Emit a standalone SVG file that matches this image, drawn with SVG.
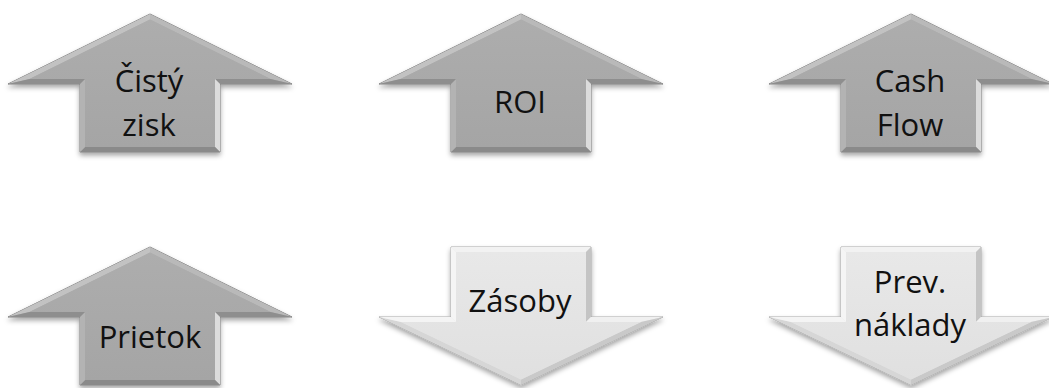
<svg xmlns="http://www.w3.org/2000/svg" xmlns:xlink="http://www.w3.org/1999/xlink" width="1049" height="388" viewBox="0 0 1049 388">
  <style>
    .label { font-family: "Open Sans", "Liberation Sans", sans-serif; font-size: 31px; fill: #111; text-anchor: middle; }
  </style>
  <defs>
    <filter id="shadow" x="-10%" y="-10%" width="120%" height="130%">
      <feDropShadow dx="0" dy="3" stdDeviation="2.5" flood-color="#000" flood-opacity="0.35"/>
    </filter>
    <linearGradient id="upFill" x1="0" y1="0" x2="0" y2="1">
      <stop offset="0" stop-color="#adadad"/>
      <stop offset="1" stop-color="#a5a5a5"/>
    </linearGradient>
    <linearGradient id="downFill" x1="0" y1="0" x2="0" y2="1">
      <stop offset="0" stop-color="#e8e8e8"/>
      <stop offset="1" stop-color="#e0e0e0"/>
    </linearGradient>

    <!-- Up arrow, local origin at the tip -->
    <g id="up-arrow">
      <polygon points="0,0 142,70 70,70 70,138 -70,138 -70,70 -142,70" fill="url(#upFill)" stroke="#808080" stroke-width="1" filter="url(#shadow)"/>
      <polygon points="-142,70 0,0 0,5.6 -120.5,65" fill="#c2c2c2"/>
      <polygon points="0,0 142,70 120.5,65 0,5.6" fill="#b9b9b9"/>
      <polygon points="142,70 70,70 65,65 120.5,65" fill="#8e8e8e"/>
      <polygon points="70,70 70,138 65,133 65,65" fill="#dcdcdc"/>
      <polygon points="70,138 -70,138 -65,133 65,133" fill="#8a8a8a"/>
      <polygon points="-70,138 -70,70 -65,65 -65,133" fill="#b3b3b3"/>
      <polygon points="-70,70 -142,70 -120.5,65 -65,65" fill="#8e8e8e"/>
      <polygon points="0,5.6 120.5,65 65,65 65,133 -65,133 -65,65 -120.5,65" fill="url(#upFill)"/>
    </g>

    <!-- Down arrow, local origin at the middle of the shaft top -->
    <g id="down-arrow">
      <polygon points="-70,0 70,0 70,70 142,70 0,138 -142,70 -70,70" fill="url(#downFill)" stroke="#a8a8a8" stroke-width="1" filter="url(#shadow)"/>
      <polygon points="-70,0 70,0 65,5 -65,5" fill="#f2f2f2"/>
      <polygon points="70,0 70,70 65,75 65,5" fill="#c4c4c4"/>
      <polygon points="70,70 142,70 120,75 65,75" fill="#f0f0f0"/>
      <polygon points="142,70 0,138 0,132.5 120,75" fill="#c9c9c9"/>
      <polygon points="0,138 -142,70 -120,75 0,132.5" fill="#d6d6d6"/>
      <polygon points="-142,70 -70,70 -65,75 -120,75" fill="#f4f4f4"/>
      <polygon points="-70,70 -70,0 -65,5 -65,75" fill="#f5f5f5"/>
      <polygon points="-65,5 65,5 65,75 120,75 0,132.5 -120,75 -65,75" fill="url(#downFill)"/>
    </g>
  </defs>

  <rect width="1049" height="388" fill="#ffffff"/>

  <!-- no connectors in this figure -->
  <g id="connectors"/>

  <g id="node-cisty-zisk">
    <use xlink:href="#up-arrow" transform="translate(150,14)"/>
    <text class="label" x="149" y="92">Čistý</text>
    <text class="label" x="149" y="136">zisk</text>
  </g>

  <g id="node-roi">
    <use xlink:href="#up-arrow" transform="translate(521,14)"/>
    <text class="label" x="520" y="113">ROI</text>
  </g>

  <g id="node-cash-flow">
    <use xlink:href="#up-arrow" transform="translate(911,14)"/>
    <text class="label" x="910" y="92">Cash</text>
    <text class="label" x="910" y="136">Flow</text>
  </g>

  <g id="node-prietok">
    <use xlink:href="#up-arrow" transform="translate(150,247)"/>
    <text class="label" x="150" y="348">Prietok</text>
  </g>

  <g id="node-zasoby">
    <use xlink:href="#down-arrow" transform="translate(521,247)"/>
    <text class="label" x="520" y="312">Zásoby</text>
  </g>

  <g id="node-prev-naklady">
    <use xlink:href="#down-arrow" transform="translate(911,247)"/>
    <text class="label" x="910" y="293">Prev.</text>
    <text class="label" x="910" y="336">náklady</text>
  </g>
</svg>
